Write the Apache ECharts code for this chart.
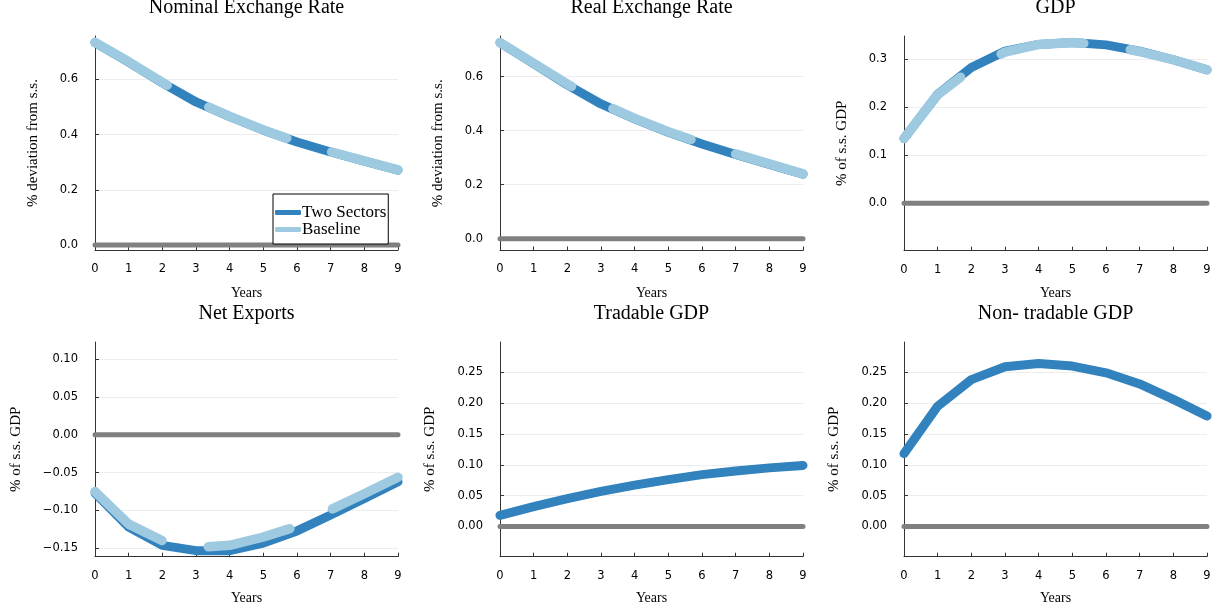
<!DOCTYPE html>
<html>
<head>
<meta charset="utf-8">
<script src="https://cdn.jsdelivr.net/npm/echarts@6/dist/echarts.min.js"></script>
<style>
html,body{margin:0;padding:0;background:#fff;}
#chart{width:1222px;height:613px;}
</style>
</head>
<body>
<div id="chart"></div>
<script>
// ---- data ----
const years = [0, 1, 2, 3, 4, 5, 6, 7, 8, 9];
const nerTwo  = [0.733, 0.662, 0.587, 0.518, 0.465, 0.416, 0.373, 0.337, 0.304, 0.271];
const nerBase = [0.734, 0.664, 0.589, 0.520, 0.466, 0.417, 0.374, 0.338, 0.305, 0.272];
const rerTwo  = [0.726, 0.648, 0.570, 0.499, 0.444, 0.394, 0.351, 0.312, 0.275, 0.239];
const rerBase = [0.727, 0.650, 0.573, 0.501, 0.446, 0.396, 0.353, 0.314, 0.277, 0.240];
const gdpTwo  = [0.135, 0.227, 0.283, 0.317, 0.331, 0.335, 0.330, 0.317, 0.299, 0.278];
const gdpBase = [0.135, 0.226, 0.280, 0.315, 0.331, 0.335, 0.330, 0.316, 0.299, 0.278];
const nxTwo   = [-0.077, -0.122, -0.146, -0.153, -0.153, -0.143, -0.127, -0.106, -0.084, -0.062];
const nxBase  = [-0.075, -0.118, -0.140, -0.149, -0.146, -0.135, -0.121, -0.099, -0.078, -0.056];
const tradTwo = [0.018, 0.032, 0.045, 0.057, 0.067, 0.076, 0.084, 0.090, 0.095, 0.099];
const nonTradTwo = [0.118, 0.195, 0.238, 0.259, 0.264, 0.260, 0.249, 0.231, 0.206, 0.179];
const zeroLine = [0, 0, 0, 0, 0, 0, 0, 0, 0, 0];

const titles = ['Nominal Exchange Rate', 'Real Exchange Rate', 'GDP', 'Net Exports', 'Tradable GDP', 'Non- tradable GDP'];
const yNames = ['% deviation from s.s.', '% deviation from s.s.', '% of s.s. GDP', '% of s.s. GDP', '% of s.s. GDP', '% of s.s. GDP'];
const yTicks = [
  [0.0, 0.2, 0.4, 0.6],
  [0.0, 0.2, 0.4, 0.6],
  [0.0, 0.1, 0.2, 0.3],
  [-0.15, -0.10, -0.05, 0.00, 0.05, 0.10],
  [0.00, 0.05, 0.10, 0.15, 0.20, 0.25],
  [0.00, 0.05, 0.10, 0.15, 0.20, 0.25]
];
const yDecimals = [1, 1, 1, 2, 2, 2];
const yRanges = [[-0.018, 0.757], [-0.044, 0.751], [-0.099, 0.3485], [-0.161, 0.1224], [-0.049, 0.299], [-0.049, 0.299]];
const twoSeries = [nerTwo, rerTwo, gdpTwo, nxTwo, tradTwo, nonTradTwo];
const baseSeries = [nerBase, rerBase, gdpBase, nxBase, null, null];
const legendNames = ['Two Sectors', 'Baseline'];

// ---- style ----
const SERIF = '"Liberation Serif", "DejaVu Serif", serif';
const SANS = '"DejaVu Sans", sans-serif';
const DARK = '#3182bd', LIGHT = '#9ecae1', GREY = '#808080';

const layout = [
  {left: 95, top: 36, w: 303, h: 214, nameGap: 54},
  {left: 500, top: 36, w: 303, h: 214.5, nameGap: 54},
  {left: 904, top: 36, w: 303, h: 214.7, nameGap: 54},
  {left: 95, top: 342, w: 303, h: 214.7, nameGap: 71},
  {left: 500, top: 342, w: 303, h: 214.7, nameGap: 62},
  {left: 904, top: 342, w: 303, h: 214.7, nameGap: 62}
];

const pairs = arr => years.map((y, i) => [y, arr[i]]);

const grid = [], xAxis = [], yAxis = [], series = [], title = [];
layout.forEach((L, k) => {
  grid.push({left: L.left, top: L.top, width: L.w, height: L.h, containLabel: false});
  title.push({
    text: titles[k], left: L.left + L.w / 2, top: k < 3 ? -2 : 304, textAlign: 'center', padding: 0,
    textStyle: {fontFamily: SERIF, fontSize: 20, fontWeight: 'normal', color: '#000'}
  });
  xAxis.push({
    type: 'value', gridIndex: k, min: 0, max: 9, interval: 1,
    name: 'Years', nameLocation: 'middle', nameGap: k < 3 ? 36 : 35,
    nameTextStyle: {fontFamily: SERIF, fontSize: 14, color: '#000'},
    axisLine: {show: true, onZero: false, lineStyle: {color: '#333', width: 1}},
    axisTick: {show: true, inside: true, length: 4, lineStyle: {color: '#333'}},
    axisLabel: {fontFamily: SANS, fontSize: 11.5, color: '#000', margin: 13},
    splitLine: {show: false}
  });
  const dec = yDecimals[k];
  yAxis.push({
    type: 'value', gridIndex: k, min: yRanges[k][0], max: yRanges[k][1],
    name: yNames[k], nameLocation: 'middle', nameGap: L.nameGap, nameRotate: 90,
    nameTextStyle: {fontFamily: SERIF, fontSize: 15, color: '#000'},
    axisLine: {show: true, onZero: false, lineStyle: {color: '#333', width: 1}},
    axisTick: {show: true, inside: true, length: 4, customValues: yTicks[k], lineStyle: {color: '#333'}},
    axisLabel: {
      fontFamily: SANS, fontSize: 11.5, color: '#000', margin: 17, customValues: yTicks[k],
      formatter: v => (v < 0 ? '\u2212' : '') + Math.abs(v).toFixed(dec)
    },
    splitLine: {show: false}
  });
  // gridlines + zero line
  series.push({
    type: 'line', name: 'zero', xAxisIndex: k, yAxisIndex: k, data: pairs(zeroLine),
    showSymbol: false, silent: true, clip: false, z: 1,
    lineStyle: {color: GREY, width: 5, cap: 'round'}, itemStyle: {color: GREY},
    markLine: {
      silent: true, symbol: 'none', label: {show: false}, animation: false, z: 0,
      lineStyle: {type: 'solid', color: '#ededed', width: 1},
      data: yTicks[k].filter(v => v !== 0).map(v => ({yAxis: v}))
    }
  });
  series.push({
    type: 'line', name: legendNames[0], xAxisIndex: k, yAxisIndex: k, data: pairs(twoSeries[k]),
    showSymbol: false, clip: false, z: 3,
    lineStyle: {color: DARK, width: 9, cap: 'round', join: 'round'}, itemStyle: {color: DARK}
  });
  if (baseSeries[k]) {
    series.push({
      type: 'line', name: legendNames[1], xAxisIndex: k, yAxisIndex: k, data: pairs(baseSeries[k]),
      showSymbol: false, clip: false, z: 4,
      lineStyle: {color: LIGHT, width: 9.5, cap: 'round', join: 'round', type: [84, 47], dashOffset: 0},
      itemStyle: {color: LIGHT}
    });
  }
});

const chart = echarts.init(document.getElementById('chart'), null, {renderer: 'canvas'});
chart.setOption({
  animation: false,
  backgroundColor: '#fff',
  title, grid, xAxis, yAxis, series,
  legend: {
    data: legendNames, orient: 'vertical', left: 273, top: 194,
    padding: [10, 2, 6, 2], itemGap: 0, itemWidth: 26, itemHeight: 5,
    icon: 'roundRect', backgroundColor: '#fff', borderColor: '#000', borderWidth: 1,
    textStyle: {fontFamily: SERIF, fontSize: 17, color: '#000', padding: [0, 0, 0, -4], lineHeight: 15.5},
    inactiveColor: '#ccc', z: 10
  }
});
</script>
</body>
</html>
